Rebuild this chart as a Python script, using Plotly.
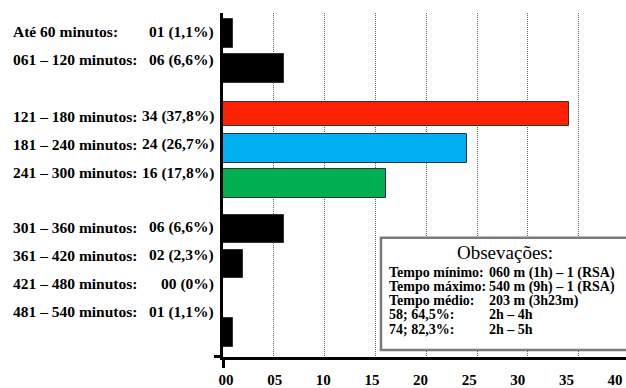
import plotly.graph_objects as go

# Duration ranges, in three blocks
groups = [
    ["Até 60 minutos:", "061 – 120 minutos:"],
    ["121 – 180 minutos:", "181 – 240 minutos:", "241 – 300 minutos:"],
    ["301 – 360 minutos:", "361 – 420 minutos:", "421 – 480 minutos:", "481 – 540 minutos:"],
]
counts = [1, 6, 34, 24, 16, 6, 2, 0, 1]
percents = [1.1, 6.6, 37.8, 26.7, 17.8, 6.6, 2.3, 0, 1.1]
x_ticks = [0, 5, 10, 15, 20, 25, 30, 35, 40]

obs_title = "Obsevações:"
obs_labels = ["Tempo mínimo:", "Tempo máximo:", "Tempo médio:", "58; 64,5%:", "74; 82,3%:"]
obs_values = ["060 m (1h) – 1 (RSA)", "540 m (9h) – 1 (RSA)", "203 m (3h23m)", "2h – 4h", "2h – 5h"]

# ---- styling ----
W, H = 626, 388
L, R, T, B = 223, 626, 13, 359
SERIF = "Liberation Serif, Times New Roman, serif"
BLACK = "#000000"
colors = [BLACK, BLACK, "#FF2200", "#00B0F0", "#00B050", BLACK, BLACK, BLACK, BLACK]
widths = [0.835, 0.835, 0.69, 0.835, 0.835, 0.82, 0.82, 0.82, 0.835]
GROUP_GAP = 1 / 3

def px_x(px):
    return (px - L) / (R - L)

def px_y(py):
    return (B - py) / (B - T)

# bar slot positions: consecutive inside a block, extra gap between blocks
names, slots = [], []
k = 0
for gi, g in enumerate(groups):
    for name in g:
        names.append(name)
        slots.append(k + gi * GROUP_GAP)
        k += 1

def fmt_pct(p):
    s = f"{p:.1f}".replace(".", ",")
    return ("0" if p == 0 else s) + "%"

count_text = [f"{c:02d} ({fmt_pct(p)})" for c, p in zip(counts, percents)]

fig = go.Figure()
fig.add_trace(go.Bar(
    x=counts, y=slots, orientation="h", width=widths,
    marker=dict(color=colors, line=dict(color="#333333", width=1)),
    showlegend=False, hoverinfo="skip",
))
# carrier for the tick-label axis
fig.add_trace(go.Scatter(x=[None], y=[None], xaxis="x2", yaxis="y",
                         showlegend=False, hoverinfo="skip"))

px_per_unit = 10.166
y_px0, y_pitch = 33.8, 34.7
y_top = (T - y_px0) / y_pitch
y_bot = (B - y_px0) / y_pitch

lab_px0, lab_px40 = 226, 615
lab_scale = (lab_px40 - lab_px0) / 40

fig.update_layout(
    width=W, height=H,
    margin=dict(l=L, r=W - R, t=T, b=H - B, pad=0),
    paper_bgcolor="white", plot_bgcolor="white",
    bargap=0,
    xaxis=dict(
        range=[0, (R - L) / px_per_unit],
        showline=True, linewidth=3, linecolor=BLACK,
        tickvals=[0], ticks="outside", ticklen=8, tickwidth=3, tickcolor=BLACK,
        showticklabels=False, showgrid=False, zeroline=False,
        minor=dict(tickvals=x_ticks[1:-1], showgrid=True, gridcolor="#666666",
                   griddash="1px,1px", gridwidth=1, ticks=""),
    ),
    xaxis2=dict(
        overlaying="x", anchor="y", side="bottom",
        range=[(L - lab_px0) / lab_scale, (R - lab_px0) / lab_scale],
        tickvals=x_ticks, ticktext=[f"{v:02d}" for v in x_ticks],
        ticks="outside", ticklen=9, tickcolor="rgba(0,0,0,0)",
        tickfont=dict(family=SERIF, size=15, color=BLACK, weight="bold"),
        showline=False, showgrid=False, zeroline=False,
    ),
    yaxis=dict(
        range=[y_bot, y_top],
        showline=True, linewidth=3, linecolor=BLACK,
        tickvals=[y_bot - 0.005], ticks="outside", ticklen=6, tickwidth=3,
        tickcolor=BLACK, showticklabels=False, showgrid=False, zeroline=False,
    ),
)

# category labels on the left
label_starts = [31.7, 116.7, 228.3]
label_pitch = 28.4
LABEL_FONT = dict(family=SERIF, size=15.5, color=BLACK, weight="bold")
ann = []
i = 0
for gi, g in enumerate(groups):
    for j, name in enumerate(g):
        py = label_starts[gi] + j * label_pitch
        ann.append(dict(x=px_x(11), y=px_y(py), xref="paper", yref="paper",
                        text=name, showarrow=False, xanchor="left", yanchor="middle",
                        font=LABEL_FONT))
        ann.append(dict(x=px_x(216), y=px_y(py), xref="paper", yref="paper",
                        text=count_text[i], showarrow=False, xanchor="right", yanchor="middle",
                        font=LABEL_FONT))
        i += 1

# observation box
fig.add_shape(type="rect", xref="paper", yref="paper",
              x0=px_x(381), x1=px_x(645), y0=px_y(352), y1=px_y(239),
              fillcolor="white", line=dict(color="#7a7a7a", width=2.5), layer="above")
ann.append(dict(x=px_x(505), y=px_y(254), xref="paper", yref="paper",
                text=obs_title, showarrow=False, xanchor="center", yanchor="middle",
                font=dict(family=SERIF, size=19, color=BLACK)))
obs_rows = [274.3, 288.3, 302.3, 316.7, 331]
OBS_FONT = dict(family=SERIF, size=14, color=BLACK, weight="bold")
for lab, val, py in zip(obs_labels, obs_values, obs_rows):
    ann.append(dict(x=px_x(387), y=px_y(py), xref="paper", yref="paper",
                    text=lab, showarrow=False, xanchor="left", yanchor="middle",
                    font=OBS_FONT))
    ann.append(dict(x=px_x(487), y=px_y(py), xref="paper", yref="paper",
                    text=val, showarrow=False, xanchor="left", yanchor="middle",
                    font=OBS_FONT))

fig.update_layout(annotations=ann)
fig.write_html("out.html")
